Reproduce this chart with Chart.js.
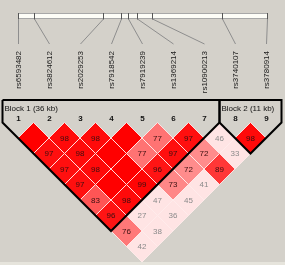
<!DOCTYPE html>
<html>
<head>
<meta charset="utf-8">
<script src="https://cdn.jsdelivr.net/npm/chart.js@4"></script>
<style>
html, body { margin: 0; padding: 0; background: #d4d1ca; overflow: hidden; }
canvas { display: block; }
</style>
</head>
<body>
<canvas id="ld" width="285" height="265"></canvas>
<script>
const markers = ['rs6593482', 'rs3824612', 'rs2029253', 'rs7918542', 'rs7919239',
                 'rs1369214', 'rs10900213', 'rs3740107', 'rs3780914'];
// physical position of each SNP (kb from the first one)
const markerKb = [0, 4.3, 22.7, 27.6, 29.6, 31.8, 35.9, 54.8, 66.8];

// D' (x100), one row per marker distance; 100 = no number shown
const dprime = [
    [100, 98, 98, 100, 77, 97, 46, 98],
    [97, 98, 100, 77, 97, 72, 33],
    [97, 98, 100, 96, 72, 89],
    [97, 100, 99, 73, 41],
    [83, 98, 47, 45],
    [96, 27, 36],
    [76, 38],
    [42]
];

const blockStart = [1, 8];
const blockEnd = [7, 9];
const blockLabels = ['Block 1 (36 kb)', 'Block 2 (11 kb)'];

const FONT = '"Liberation Sans", Arial, sans-serif';
const BLOCK_TOP = -1.45;

function cellColor(d) {
    const g = Math.round(Math.min(228, 500 * (1 - d / 100)));
    return `rgb(255, ${g}, ${g})`;
}

// cell (a,b) sits between marker a and b, one row down per marker apart
const cells = [];
dprime.forEach((row, k) => row.forEach((v, i) => {
    const a = i + 1, b = i + 2 + k;
    cells.push({ x: (a + b) / 2, y: b - a, v: v });
}));

const blockSets = blockStart.map((s, n) => {
    const e = blockEnd[n];
    return {
        data: [
            { x: s - 0.5, y: BLOCK_TOP }, { x: s - 0.5, y: 0 },
            { x: (s + e) / 2, y: e - s + 1 },
            { x: e + 0.5, y: 0 }, { x: e + 0.5, y: BLOCK_TOP },
            { x: s - 0.5, y: BLOCK_TOP }
        ],
        showLine: true,
        borderColor: '#000',
        borderWidth: 2,
        borderJoinStyle: 'miter',
        pointRadius: 0,
        fill: false,
        order: 0
    };
});

const haplo = {
    id: 'haplo',
    beforeDraw(chart) {
        const ctx = chart.ctx;
        ctx.save();
        ctx.fillStyle = '#d4d1ca';
        ctx.fillRect(0, 0, chart.width, chart.height);
        ctx.fillStyle = '#e6e4dc';
        ctx.fillRect(0, 262, chart.width, 3);
        ctx.restore();
    },
    beforeDatasetsDraw(chart) {
        const ctx = chart.ctx;
        const xs = chart.scales.x, kb = chart.scales.kb;
        ctx.save();

        // physical map bar
        const bx0 = Math.round(kb.getPixelForValue(markerKb[0]));
        const bx1 = Math.round(kb.getPixelForValue(markerKb[markerKb.length - 1]));
        ctx.fillStyle = '#fdfdf7';
        ctx.fillRect(bx0, 13, bx1 - bx0, 5);
        ctx.strokeStyle = '#a8a8a8';
        ctx.lineWidth = 1;
        ctx.beginPath();
        ctx.moveTo(bx0, 13.5); ctx.lineTo(bx1, 13.5);
        ctx.moveTo(bx0, 18.5); ctx.lineTo(bx1, 18.5);
        ctx.stroke();

        markers.forEach((name, i) => {
            const px = Math.round(kb.getPixelForValue(markerKb[i])) + 0.5;
            const lx = Math.round(xs.getPixelForValue(i + 1)) + 0.5;
            ctx.strokeStyle = '#555';
            ctx.beginPath();
            ctx.moveTo(px, 13); ctx.lineTo(px, 19.5);
            ctx.stroke();
            ctx.strokeStyle = '#8e8e8e';
            ctx.beginPath();
            ctx.moveTo(px, 19); ctx.lineTo(lx, 44);
            ctx.stroke();

            ctx.save();
            ctx.translate(lx, 51);
            ctx.rotate(-Math.PI / 2);
            ctx.fillStyle = '#1a1a1a';
            ctx.font = '8px ' + FONT;
            ctx.textAlign = 'right';
            ctx.textBaseline = 'middle';
            ctx.fillText(name, 0, 0);
            ctx.restore();

            ctx.fillStyle = '#111';
            ctx.font = 'bold 8px ' + FONT;
            ctx.textAlign = 'center';
            ctx.textBaseline = 'middle';
            ctx.fillText(String(i + 1), lx, 119);
        });

        ctx.font = '8px ' + FONT;
        ctx.textAlign = 'left';
        ctx.textBaseline = 'middle';
        ctx.fillStyle = '#111';
        blockLabels.forEach((lab, n) => {
            ctx.fillText(lab, xs.getPixelForValue(blockStart[n] - 0.5) + 2, 109);
        });
        ctx.restore();
    },
    afterDatasetsDraw(chart) {
        const ctx = chart.ctx;
        const meta = chart.getDatasetMeta(0);
        ctx.save();
        ctx.font = '8px ' + FONT;
        ctx.textAlign = 'center';
        ctx.textBaseline = 'middle';
        meta.data.forEach((pt, i) => {
            const v = cells[i].v;
            if (v >= 100) return;
            ctx.fillStyle = v < 60 ? '#8a8a8a' : '#3a1010';
            ctx.fillText(String(v), pt.x, pt.y + 0.5);
        });
        ctx.restore();
    }
};

new Chart(document.getElementById('ld'), {
    type: 'scatter',
    data: {
        datasets: [{
            data: cells,
            pointStyle: 'rectRot',
            pointRadius: 15.5,
            pointHoverRadius: 15.5,
            backgroundColor: cells.map(c => cellColor(c.v)),
            borderColor: 'rgba(255,235,235,0.9)',
            borderWidth: 1,
            clip: false,
            order: 1
        }, ...blockSets.map(b => Object.assign(b, { clip: false }))]
    },
    options: {
        responsive: false,
        animation: false,
        events: [],
        layout: { padding: 0, autoPadding: false },
        plugins: { legend: { display: false }, tooltip: { enabled: false } },
        scales: {
            x: { type: 'linear', display: false, min: 1 - 18 / 31, max: 1 + 267 / 31 },
            kb: { type: 'linear', axis: 'x', position: 'top', display: false,
                  min: -18.3 / 3.72, max: (285 - 18.3) / 3.72 },
            y: { type: 'linear', display: false, reverse: true,
                 min: -122.5 / 15.5, max: (265 - 122.5) / 15.5 }
        }
    },
    plugins: [haplo]
});
</script>
</body>
</html>
